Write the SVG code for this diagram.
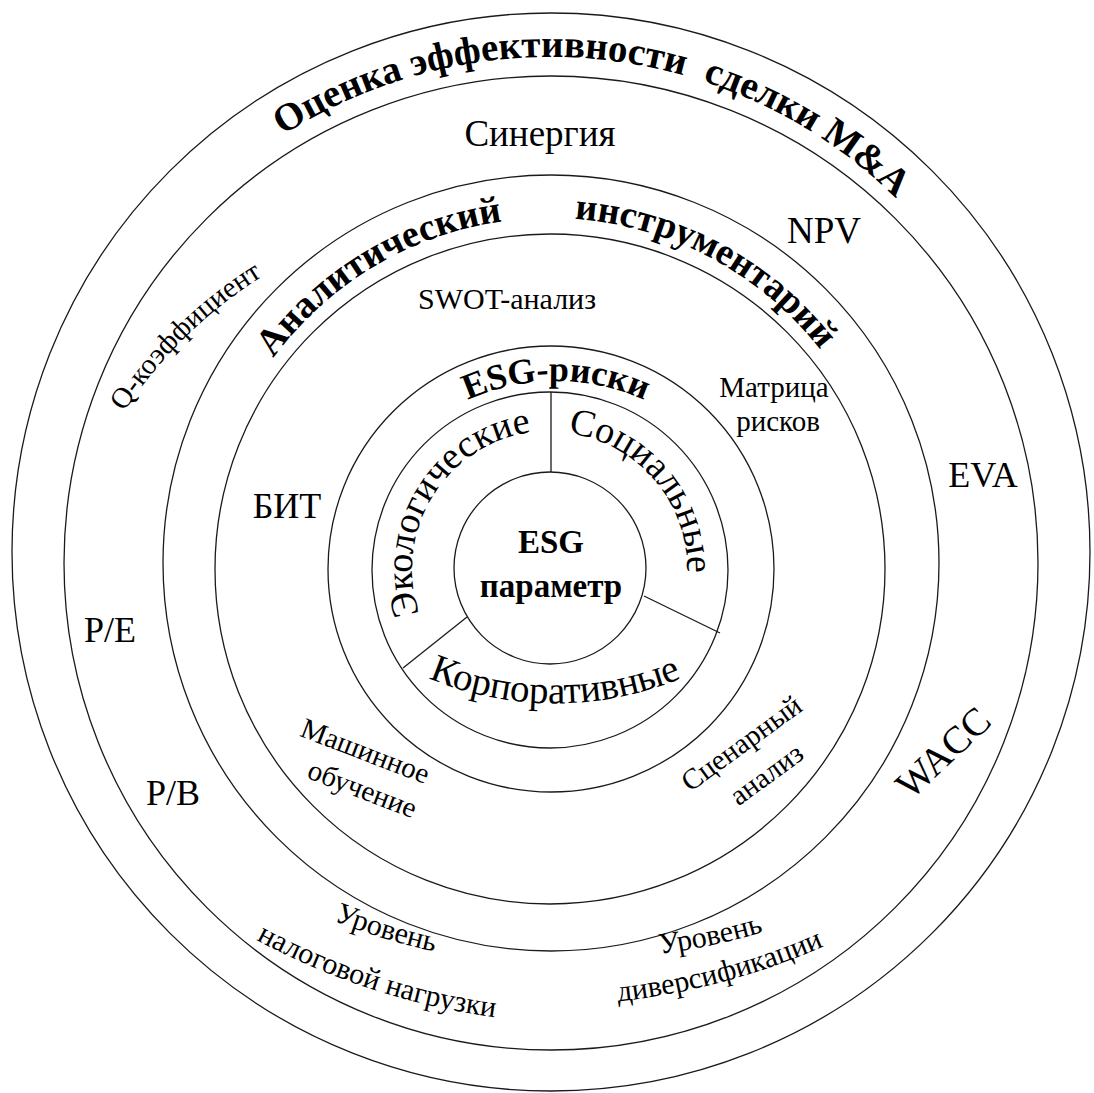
<svg xmlns="http://www.w3.org/2000/svg" width="1094" height="1093" viewBox="0 0 1094 1093">
<style>
.ring{fill:none;stroke:#1a1a1a;stroke-width:1.3}
.div{stroke:#1a1a1a;stroke-width:1.3}
text{font-family:"Liberation Serif","Times New Roman",serif;fill:#000}
.b{font-weight:bold}
.m{text-anchor:middle}
</style>
<defs>
<path id="p-title" d="M 56 551 A 494 494 0 0 1 1044 551"/>
<path id="p-anal" d="M 207 561 A 343 343 0 0 1 893 561"/>
<path id="p-q" d="M 124 412 A 450 450 0 0 1 263 276"/>
<path id="p-esg" d="M 341 596 A 215 215 0 0 1 771 596"/>
<path id="p-eco" d="M 481 688.5 A 138 138 0 1 1 669.5 500"/>
<path id="p-soc" d="M 431.4 500.5 A 137 137 0 1 1 550 706"/>
<path id="p-korp" d="M 395 662 A 330 330 0 0 0 715 662"/>
<path id="p-ur1" d="M 330.5 919.6 A 700 700 0 0 0 437.5 952.4"/>
<path id="p-nal" d="M 250.4 936.5 A 700 700 0 0 0 501.4 1018.1"/>
<path id="p-ur2" d="M 656.9 954.4 A 700 700 0 0 0 766.5 931.2"/>
<path id="p-div" d="M 618.1 1001.4 A 700 700 0 0 0 823.9 946.2"/>
</defs>
<rect width="1094" height="1093" fill="#fff"/>
<g id="rings">
<circle class="ring" cx="551" cy="552" r="539"/>
<circle class="ring" cx="551" cy="563" r="487"/>
<circle class="ring" cx="551" cy="563" r="388"/>
<circle class="ring" cx="550" cy="569" r="335"/>
<circle class="ring" cx="551" cy="569" r="223"/>
<circle class="ring" cx="550" cy="570" r="178"/>
<circle class="ring" cx="550" cy="568" r="96"/>
</g>
<g id="connectors">
<line class="div" x1="551" y1="392" x2="551" y2="472"/>
<line class="div" x1="644" y1="596" x2="720" y2="633"/>
<line class="div" x1="467" y1="617" x2="403" y2="668"/>
</g>
<g id="outer-band">
<text class="b" font-size="39"><textPath href="#p-title" startOffset="826.4" text-anchor="middle">Оценка эффективности&#160; сделки M&amp;A</textPath></text>
</g>
<g id="band-2">
<text class="m" font-size="37" x="540" y="146">Синергия</text>
<text class="m" font-size="37" x="824" y="243">NPV</text>
<text class="m" font-size="36" x="983" y="487">EVA</text>
<text font-size="29"><textPath href="#p-q" startOffset="50%" text-anchor="middle">Q-коэффициент</textPath></text>
<text class="m" font-size="36" x="110" y="642">P/E</text>
<text class="m" font-size="36" x="173" y="805">P/B</text>
<text class="m" font-size="39" transform="translate(952 762) rotate(-43)">WACC</text>
<text font-size="30"><textPath href="#p-ur1" startOffset="50%" text-anchor="middle">Уровень</textPath></text>
<text font-size="30"><textPath href="#p-nal" startOffset="50%" text-anchor="middle">налоговой нагрузки</textPath></text>
<text font-size="30"><textPath href="#p-ur2" startOffset="50%" text-anchor="middle">Уровень</textPath></text>
<text font-size="30"><textPath href="#p-div" startOffset="50%" text-anchor="middle">диверсификации</textPath></text>
</g>
<g id="analytic-band">
<text class="b" font-size="38"><textPath href="#p-anal" startOffset="353.8" text-anchor="middle">Аналитический</textPath></text>
<text class="b" font-size="38"><textPath href="#p-anal" startOffset="706.4" text-anchor="middle">инструментарий</textPath></text>
</g>
<g id="analytic-tools">
<text class="m" font-size="30" x="507" y="309">SWOT-анализ</text>
<text class="m" font-size="29" x="774" y="397">Матрица</text>
<text class="m" font-size="29" x="778" y="431">рисков</text>
<text class="m" font-size="36" x="287" y="518">БИТ</text>
<text class="m" font-size="29" transform="translate(362 760) rotate(21)">Машинное</text>
<text class="m" font-size="29" transform="translate(359 798) rotate(21)">обучение</text>
<text class="m" font-size="29" transform="translate(747 751) rotate(-36)">Сценарный</text>
<text class="m" font-size="29" transform="translate(772 782) rotate(-36)">анализ</text>
</g>
<g id="esg-risks">
<text class="b" font-size="36"><textPath href="#p-esg" startOffset="50%" text-anchor="middle">ESG-риски</textPath></text>
<text font-size="38"><textPath href="#p-eco" startOffset="220.6" text-anchor="middle">Экологические</textPath></text>
<text font-size="38"><textPath href="#p-soc" startOffset="261.8" text-anchor="middle">Социальные</textPath></text>
<text font-size="39"><textPath href="#p-korp" startOffset="50%" text-anchor="middle">Корпоративные</textPath></text>
</g>
<g id="esg-core">
<text class="b m" font-size="33" x="551" y="553">ESG</text>
<text class="b m" font-size="33" x="551" y="597">параметр</text>
</g>
</svg>
